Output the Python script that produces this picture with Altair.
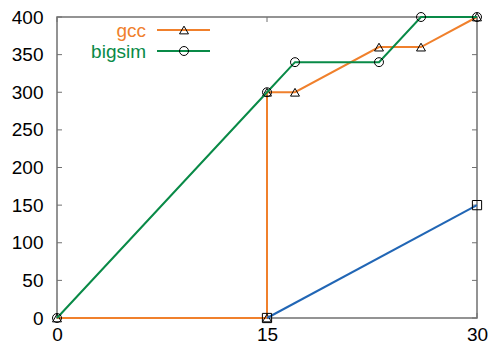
import altair as alt
import pandas as pd

# ---- data ----
gcc_x = [0, 15, 15, 17, 23, 26, 30]
gcc_y = [0, 0, 300, 300, 360, 360, 400]
bigsim_x = [0, 15, 17, 23, 26, 30]
bigsim_y = [0, 300, 340, 340, 400, 400]
third_x = [15, 30]
third_y = [0, 150]

x_ticks = [0, 15, 30]
y_ticks = [0, 50, 100, 150, 200, 250, 300, 350, 400]
legend_names = ["gcc", "bigsim"]

ORANGE = "#f0802c"
GREEN = "#098a47"
BLUE = "#2166b5"
BORDER = "#707070"

W, H = 420, 301
PAD_L, PAD_T = 49, 9
FONT = "Liberation Sans"
FS = 19
TICK = 5


def series(xs, ys, name):
    return pd.DataFrame({"x": xs, "y": ys, "order": list(range(len(xs))), "series": name})


df_gcc = series(gcc_x, gcc_y, "gcc")
df_big = series(bigsim_x, bigsim_y, "bigsim")
df_3 = series(third_x, third_y, "third")

xscale = alt.Scale(domain=[0, 30], nice=False, zero=False)
yscale = alt.Scale(domain=[0, 400], nice=False, zero=False)

xaxis = alt.Axis(values=x_ticks, ticks=False, domain=False, grid=False,
                 labelFont=FONT, labelFontSize=FS, labelColor="black",
                 labelPadding=7, title=None, labelFlush=False)
yaxis = alt.Axis(values=y_ticks, ticks=False, domain=False, grid=False,
                 labelFont=FONT, labelFontSize=FS, labelColor="black",
                 labelPadding=14, title=None)


def X(field):
    return alt.X(field, scale=xscale, axis=xaxis)


def Y(field):
    return alt.Y(field, scale=yscale, axis=yaxis)


def line_layer(df, color, shape, size):
    base = alt.Chart(df)
    line = base.mark_line(color=color, strokeWidth=2, clip=False).encode(
        x=X("x:Q"), y=Y("y:Q"), order="order:Q")
    pts = base.mark_point(shape=shape, size=size, filled=False, color="black",
                          strokeWidth=1, opacity=1).encode(x=X("x:Q"), y=Y("y:Q"))
    return [line, pts]


# inward ticks on all four sides
xt = pd.DataFrame({"v": x_ticks})
yt = pd.DataFrame({"v": y_ticks})
tick_layers = [
    alt.Chart(xt).mark_rule(color=BORDER, strokeWidth=1).encode(
        x=X("v:Q"), y=alt.value(H), y2=alt.value(H - TICK)),
    alt.Chart(xt).mark_rule(color=BORDER, strokeWidth=1).encode(
        x=X("v:Q"), y=alt.value(0), y2=alt.value(TICK)),
    alt.Chart(yt).mark_rule(color=BORDER, strokeWidth=1).encode(
        y=Y("v:Q"), x=alt.value(0), x2=alt.value(TICK)),
    alt.Chart(yt).mark_rule(color=BORDER, strokeWidth=1).encode(
        y=Y("v:Q"), x=alt.value(W), x2=alt.value(W - TICK)),
]

# legend (gnuplot style: label right-aligned, then sample line with marker)
legend_layers = []
leg_colors = [ORANGE, GREEN]
leg_shapes = ["triangle-up", "circle"]
leg_sizes = [80, 80]
for i, name in enumerate(legend_names):
    ly = 14 + 21 * i
    d = pd.DataFrame({"name": [name]})
    legend_layers.append(alt.Chart(d).mark_text(
        align="right", baseline="middle", font=FONT, fontSize=FS, color=leg_colors[i]
    ).encode(text="name:N", x=alt.value(89), y=alt.value(ly)))
    legend_layers.append(alt.Chart(d).mark_rule(color=leg_colors[i], strokeWidth=2).encode(
        x=alt.value(100), x2=alt.value(153), y=alt.value(ly - 1)))
    legend_layers.append(alt.Chart(d).mark_point(
        shape=leg_shapes[i], size=leg_sizes[i], filled=False, color="black", strokeWidth=1, opacity=1
    ).encode(x=alt.value(127), y=alt.value(ly - 1)))

layers = (
    tick_layers
    + line_layer(df_gcc, ORANGE, "triangle-up", 80)
    + line_layer(df_big, GREEN, "circle", 80)
    + line_layer(df_3, BLUE, "square", 85)
    + legend_layers
)

chart = alt.layer(*layers).properties(
    width=W, height=H,
    autosize=alt.AutoSizeParams(type="none"),
    padding={"left": PAD_L, "top": PAD_T, "right": 480 - PAD_L - W, "bottom": 338 - PAD_T - H},
).configure_view(stroke=BORDER, strokeWidth=1.5)

chart.save("out.html", embed_options={"renderer": "svg", "actions": False})
